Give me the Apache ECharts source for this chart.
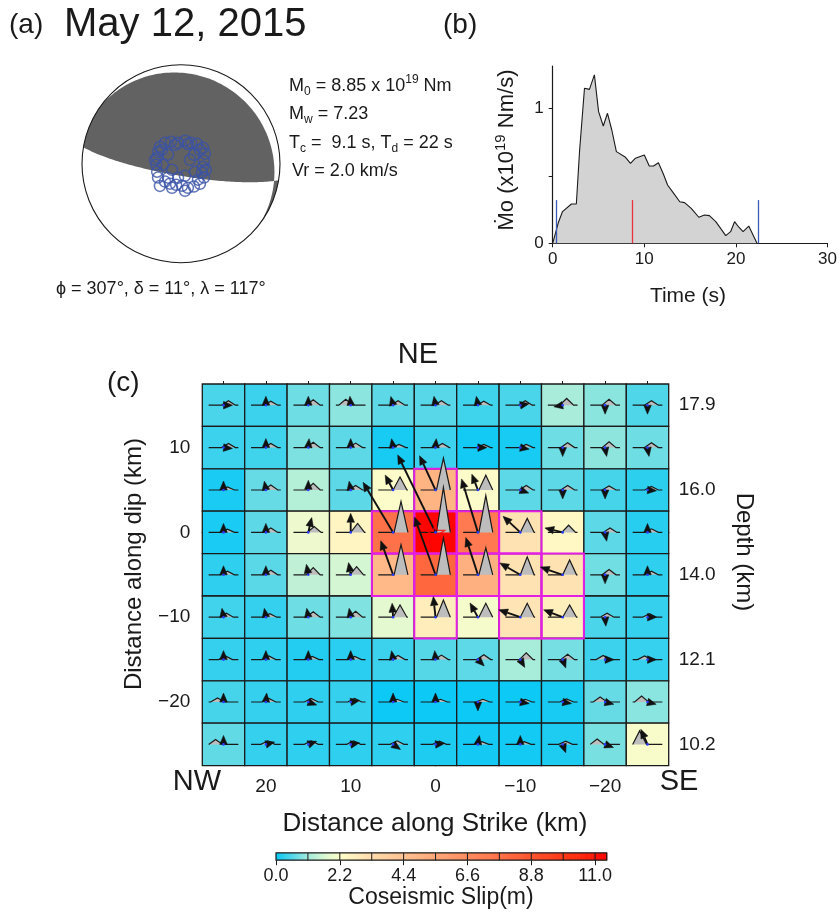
<!DOCTYPE html>
<html>
<head>
<meta charset="utf-8">
<script src="https://cdn.jsdelivr.net/npm/echarts@6.0.0/dist/echarts.min.js"></script>
<style>
html,body{margin:0;padding:0;background:#ffffff;}
#chart{width:840px;height:918px;}
</style>
</head>
<body>
<div id="chart"></div>
<script>
// ================= DATA =================
// (a) focal mechanism and station take-off points
const eventDate = 'May 12, 2015';
const strike1 = 307, dip1 = 11, rake1 = 117;
const stationAz = [309,323,336,352,10,25.5,38.7,54,67,82.6,97.8,113,121,136.5,150.5,164,177,193,209,222,239,251.6,268,284,297.5,305,236,66,120,162,267,306,342.5,19,53.6,103.5,133,171.6,200.6,223.7,278.7,55,192,223];
const stationTakeoff = [22.3,21.8,19.9,17.4,19.2,19.2,21.1,22.4,21.4,19.0,18.2,18.7,22.1,22.7,21.5,20.6,18.1,17.7,18.7,19.7,22.1,20.7,20.4,20.2,21.2,13.0,8.9,8.1,13.2,10.4,14.8,19.4,16.3,17.2,19.4,21.0,19.1,22.5,21.1,25.2,21.6,12.9,11.7,15.6];

// (b) moment rate function (x10^19 Nm/s)
const mrfTime = [0,0.15,0.6,1.07,2.04,2.58,2.94,3.47,4.01,4.55,5.01,5.52,5.98,6.45,6.95,7.95,8.49,9.03,10.0,10.54,11.0,11.54,12.08,12.54,13.15,13.87,14.4,15.12,15.95,16.56,17.1,17.8,18.89,19.42,19.85,20.32,20.78,21.4,22.3];
const mrfRate = [0,0.0,0.15,0.235,0.291,0.291,0.691,1.148,1.14,1.247,0.975,0.869,0.963,0.839,0.679,0.637,0.592,0.63,0.654,0.573,0.573,0.597,0.513,0.432,0.375,0.308,0.301,0.259,0.193,0.21,0.205,0.16,0.057,0.086,0.16,0.119,0.086,0.128,0];
const startEndTimes = [0.35, 22.4];
const centroidTime = 8.7;
const markerHeight = 0.32;
const timeTicks = [0,10,20,30];
const rateTicks = [0,0.5,1];
const rateLabels = [0,1];

// (c) finite fault
const strikeCenters = [25,20,15,10,5,0,-5,-10,-15,-20,-25];
const dipCenters = [15,10,5,0,-5,-10,-15,-20,-25];
const slip = [
  [0.49,0.38,0.74,0.95,0.61,0.58,0.41,0.48,1.15,0.94,0.52],
  [0.38,0.41,0.85,0.61,0.11,0.38,0.07,0.12,0.74,0.96,0.74],
  [0.13,0.68,1.27,0.61,2.22,4.95,2.22,0.61,0.61,0.45,0.27],
  [0.13,0.61,2.00,2.50,7.65,11.3,7.33,3.10,2.40,0.61,0.23],
  [0.28,0.60,1.40,1.62,4.75,8.06,5.13,3.10,3.10,0.76,0.28],
  [0.42,0.32,0.74,0.86,1.84,2.74,2.13,2.99,2.68,0.49,0.32],
  [0.32,0.28,0.20,0.24,0.38,0.57,0.62,1.14,0.79,0.38,0.33],
  [0.45,0.32,0.28,0.32,0.04,0.04,0.04,0.04,0.12,0.68,0.93],
  [0.65,0.32,0.28,0.28,0.28,0.16,0.09,0.07,0.16,0.81,2.17]
];
// slip direction in the fault-plane frame (0 = +strike, 90 = up-dip)
const slipRake = [
  [180,90,90,85,75,80,80,170,350,270,270],
  [185,90,95,90,80,95,180,190,270,260,260],
  [90,80,90,80,62,65,69,200,270,270,185],
  [90,90,103,90,59,64,73,43,14,260,90],
  [90,90,80,80,70,70,72,30,19,270,90],
  [80,80,80,80,86,84,61,19,21,265,180],
  [90,90,90,90,80,85,225,240,250,180,180],
  [90,95,200,170,90,90,270,190,190,195,195],
  [90,165,160,170,215,175,100,90,250,200,66]
];
// subfault source time functions: relative peak amplitude and onset (s)
const stfAmp = [
  [0.10,0.09,0.12,0.13,0.10,0.10,0.09,0.10,0.15,0.13,0.10],
  [0.09,0.09,0.12,0.10,0.07,0.09,0.07,0.07,0.11,0.13,0.11],
  [0.07,0.11,0.15,0.10,0.29,0.71,0.33,0.10,0.10,0.09,0.08],
  [0.07,0.10,0.13,0.20,0.69,1.00,0.82,0.31,0.16,0.10,0.08],
  [0.08,0.10,0.16,0.18,0.67,0.82,0.60,0.40,0.33,0.12,0.08],
  [0.09,0.08,0.12,0.13,0.27,0.38,0.31,0.31,0.27,0.09,0.08],
  [0.08,0.08,0.07,0.07,0.09,0.10,0.11,0.15,0.12,0.09,0.08],
  [0.09,0.08,0.08,0.08,0.06,0.06,0.06,0.06,0.07,0.11,0.13],
  [0.11,0.08,0.08,0.08,0.08,0.07,0.06,0.06,0.07,0.12,0.30]
];
const stfOnset = [
  [13,13,13,3,13,14,14,13,12,12,12],
  [13,13,13,13,14,15,14,14,13,12,12],
  [12,13,13,13,15,16,16,14,13,12,12],
  [12,13,14,15,16,16,16,15,14,13,12],
  [12,13,13,14,16,16,16,15,15,12,12],
  [11,12,13,13,15,16,16,15,15,10,10],
  [10,11,12,12,13,14,14,14,13,6,5],
  [2,11,11,12,12,13,13,13,12,3,2],
  [0,10,11,11,12,12,12,12,11,0,0]
];
const hypocenter = [0, 0];
const strikeLabels = [20,10,0,-10,-20];
const dipLabels = [10,0,-10,-20];
const depthTickDips = [15,5,-5,-15,-25];
const depthLabels = ['17.9','16.0','14.0','12.1','10.2'];
const slipTicks = [0,2.2,4.4,6.6,8.8,11.0];
const slipMax = 11.4;
const slipColors = ['#08c8f6','#56d7e8','#a8ecda','#dcf8d2','#fffcc8','#ffe9b9','#ffdaaa','#ffcc9c','#ffbe8e','#ffb080','#ffa274','#ff9467','#ff865a','#ff784e','#ff6a41','#ff5c34','#ff4c28','#ff3e1c','#ff3012','#ff1e08','#ff0000'];
const highlightSlip = 2.6;

// ================= HELPERS =================
const D2R = Math.PI / 180;
const FONT = '"Liberation Sans", Arial, Helvetica, sans-serif';
const INK = '#1a1a1a';
const cellKm = Math.abs(strikeCenters[0] - strikeCenters[1]);
const xExt = [Math.min(...strikeCenters) - cellKm / 2, Math.max(...strikeCenters) + cellKm / 2];
const yExt = [Math.min(...dipCenters) - cellKm / 2, Math.max(...dipCenters) + cellKm / 2];
const fmtSigned = v => (v < 0 ? '\u2212' + Math.abs(v) : String(v));

const cellData = [];
dipCenters.forEach((y, r) => strikeCenters.forEach((x, c) => {
  cellData.push([x, y, slip[r][c], slipRake[r][c], stfAmp[r][c], stfOnset[r][c]]);
}));
const hiData = cellData.filter(d => d[2] >= highlightSlip);

// STF drawing scale
const stfWindow = 30, stfRise = 7, stfHalfKm = 1.75, stfKmPerS = 3.5 / 30, stfAmpKm = 5.3;
const arrowKmPerM = 0.9, headLen = 9, headHalf = 3.8;

function cellRect(api, x, y) {
  const a = api.coord([x + cellKm / 2, y + cellKm / 2]);
  const b = api.coord([x - cellKm / 2, y - cellKm / 2]);
  return { x: Math.min(a[0], b[0]), y: Math.min(a[1], b[1]), width: Math.abs(b[0] - a[0]), height: Math.abs(b[1] - a[1]) };
}

// focal mechanism geometry (equal-area lower hemisphere)
function planeCurve(str, dp, a0, a1, n) {
  const pts = [];
  for (let k = 0; k <= n; k++) {
    const a = a0 + (a1 - a0) * k / n;
    const pl = Math.asin(Math.sin(dp * D2R) * Math.sin(a));
    const tr = str * D2R + Math.atan2(Math.cos(dp * D2R) * Math.sin(a), Math.cos(a));
    const r = Math.SQRT2 * Math.sin((Math.PI / 2 - pl) / 2);
    pts.push([r * Math.sin(tr), r * Math.cos(tr)]);
  }
  return pts;
}
function edgeArc(az0, az1, n) {
  let d = az1 - az0;
  while (d > 180) d -= 360;
  while (d <= -180) d += 360;
  const pts = [];
  for (let k = 0; k <= n; k++) {
    const az = (az0 + d * k / n) * D2R;
    pts.push([Math.sin(az), Math.cos(az)]);
  }
  return pts;
}
function mechanism(s, d, r) {
  const sr = s * D2R, dr = d * D2R, rr = r * D2R;
  const n1 = [-Math.sin(dr) * Math.sin(sr), Math.sin(dr) * Math.cos(sr), -Math.cos(dr)];
  const sv = [Math.cos(rr) * Math.cos(sr) + Math.sin(rr) * Math.cos(dr) * Math.sin(sr),
              Math.cos(rr) * Math.sin(sr) - Math.sin(rr) * Math.cos(dr) * Math.cos(sr),
              -Math.sin(rr) * Math.sin(dr)];
  const n2 = sv[2] > 0 ? sv.map(v => -v) : sv.slice();
  const dip2 = Math.acos(-n2[2]) / D2R;
  const strike2 = ((Math.atan2(n2[1], n2[0]) / D2R - 90) % 360 + 360) % 360;
  let B = [n1[1] * sv[2] - n1[2] * sv[1], n1[2] * sv[0] - n1[0] * sv[2], n1[0] * sv[1] - n1[1] * sv[0]];
  const bl = Math.hypot(B[0], B[1], B[2]);
  B = B.map(v => v / bl);
  if (B[2] < 0) B = B.map(v => -v);
  const alphaOn = (str, dp) => {
    const st = str * D2R, dd = dp * D2R;
    const sH = [Math.cos(st), Math.sin(st), 0];
    const dH = [Math.cos(dd) * Math.cos(st + Math.PI / 2), Math.cos(dd) * Math.sin(st + Math.PI / 2), Math.sin(dd)];
    return Math.atan2(B[0] * dH[0] + B[1] * dH[1] + B[2] * dH[2], B[0] * sH[0] + B[1] * sH[1]);
  };
  const a1X = alphaOn(s, d), a2X = alphaOn(strike2, dip2);
  const main = [].concat(
    planeCurve(strike2, dip2, a2X, Math.PI, 90),
    edgeArc(strike2 + 180, s, 20),
    planeCurve(s, d, 0, a1X, 90));
  const sliver = [].concat(
    planeCurve(strike2, dip2, a2X, 0, 10),
    edgeArc(strike2, s + 180, 20),
    planeCurve(s, d, Math.PI, a1X, 20));
  return { main, sliver };
}
const mech = mechanism(strike1, dip1, rake1);
const stationXY = stationAz.map((az, i) => {
  const r = Math.SQRT2 * Math.sin(stationTakeoff[i] * D2R / 2);
  return [r * Math.sin(az * D2R), r * Math.cos(az * D2R)];
});

// colour bar strip
const cbSteps = 228;
const cbData = [];
for (let i = 0; i < cbSteps; i++) {
  const v0 = i * slipMax / cbSteps;
  cbData.push([v0, 0, v0 + slipMax / cbSteps / 2]);
}
const dividerStep = slipTicks[1] / 2;
const dividers = [];
for (let v = dividerStep; v < slipMax - 1e-6; v += dividerStep) dividers.push([v, 0]);

// ================= TEXT =================
function txt(x, y, text, size, o) {
  o = o || {};
  const align = o.align || 'left';
  const st = { text: text, fontSize: size, fontFamily: FONT, fill: INK,
    align: align, verticalAlign: 'middle', textAlign: align, textVerticalAlign: 'middle' };
  if (o.rich) st.rich = o.rich;
  return { type: 'text', x: x, y: y, rotation: o.rot || 0, z: 100, silent: true, style: st };
}
function richSet(size) {
  const sm = Math.round(size * 0.66);
  return {
    n: { fontSize: size, fontFamily: FONT, fill: INK, lineHeight: size + 6 },
    sub: { fontSize: sm, fontFamily: FONT, fill: INK, lineHeight: sm, verticalAlign: 'bottom' },
    sup: { fontSize: sm, fontFamily: FONT, fill: INK, lineHeight: sm, verticalAlign: 'top' }
  };
}
const R18 = richSet(18), R22 = richSet(22);

// ================= CHART =================
const chart = echarts.init(document.getElementById('chart'), null, { renderer: 'canvas', width: 840, height: 918 });

function xAx(pos, ticks, len, labels, line) {
  return {
    gridIndex: 0, type: 'value', position: pos, min: xExt[0], max: xExt[1], inverse: true,
    axisLine: { show: line, lineStyle: { color: INK, width: 1.2 } },
    axisTick: { show: true, customValues: ticks, length: len, lineStyle: { color: INK, width: 1 } },
    axisLabel: { show: !!labels, customValues: labels || [], formatter: fmtSigned, margin: 12, fontSize: 19, color: INK, fontFamily: FONT },
    splitLine: { show: false }
  };
}
function yAx(pos, ticks, len, labels, line, fmt, margin) {
  return {
    gridIndex: 0, type: 'value', position: pos, min: yExt[0], max: yExt[1],
    axisLine: { show: line, lineStyle: { color: INK, width: 1.2 } },
    axisTick: { show: true, customValues: ticks, length: len, lineStyle: { color: INK, width: 1 } },
    axisLabel: { show: !!labels, customValues: labels || [], formatter: fmt || fmtSigned, margin: margin || 10, fontSize: 19, color: INK, fontFamily: FONT },
    splitLine: { show: false }
  };
}

const option = {
  animation: false,
  backgroundColor: '#ffffff',
  grid: [
    { left: 202.3, top: 384, width: 466.4, height: 381.6, containLabel: false },
    { left: 552.7, top: 66, right: 10, bottom: 674.7, containLabel: false },
    { left: 82, top: 64.8, width: 198, height: 198, containLabel: false },
    { left: 276, top: 852.8, width: 330.7, height: 7.4, containLabel: false }
  ],
  xAxis: [
    xAx('bottom', strikeLabels, 6, strikeLabels, true),
    xAx('bottom', strikeCenters, 3, null, false),
    xAx('top', strikeLabels, 6, null, true),
    xAx('top', strikeCenters, 3, null, false),
    { gridIndex: 1, type: 'value', min: 0, max: 30, interval: 10,
      axisLine: { show: true, lineStyle: { color: INK, width: 1.2 } },
      axisTick: { show: true, customValues: timeTicks, length: 4, lineStyle: { color: INK } },
      axisLabel: { customValues: timeTicks, fontSize: 17, color: INK, fontFamily: FONT, margin: 8 },
      splitLine: { show: false } },
    { gridIndex: 2, type: 'value', min: -1, max: 1, show: false },
    { gridIndex: 3, type: 'value', min: 0, max: slipMax,
      axisLine: { show: false },
      axisTick: { show: true, customValues: slipTicks, length: 5, lineStyle: { color: INK } },
      axisLabel: { customValues: slipTicks, formatter: v => v.toFixed(1), fontSize: 18, color: INK, fontFamily: FONT, margin: 7 },
      splitLine: { show: false } }
  ],
  yAxis: [
    yAx('left', dipLabels, 6, dipLabels, true, fmtSigned, 12),
    yAx('left', dipCenters, 3, null, false),
    yAx('right', dipCenters, 4, depthTickDips, true, v => depthLabels[depthTickDips.indexOf(v)], 10),
    { gridIndex: 1, type: 'value', min: 0, max: 1.313,
      axisLine: { show: true, lineStyle: { color: INK, width: 1.2 } },
      axisTick: { show: true, customValues: rateTicks, length: 4, lineStyle: { color: INK } },
      axisLabel: { customValues: rateLabels, fontSize: 17, color: INK, fontFamily: FONT, margin: 9 },
      splitLine: { show: false } },
    { gridIndex: 2, type: 'value', min: -1, max: 1, show: false },
    { gridIndex: 3, type: 'value', min: 0, max: 1, show: false }
  ],
  visualMap: {
    type: 'continuous', show: false, min: 0, max: slipMax, dimension: 2,
    seriesIndex: [0, 8], inRange: { color: slipColors }
  },
  series: [
    // 0: slip cells
    { type: 'custom', xAxisIndex: 0, yAxisIndex: 0, data: cellData, silent: true,
      renderItem: (p, api) => ({ type: 'rect', shape: cellRect(api, api.value(0), api.value(1)),
        style: { fill: api.visual('color'), stroke: INK, lineWidth: 1.3 } }) },
    // 1: highlighted large-slip cells
    { type: 'custom', xAxisIndex: 0, yAxisIndex: 0, data: hiData, silent: true,
      renderItem: (p, api) => ({ type: 'rect', shape: cellRect(api, api.value(0), api.value(1)),
        style: { fill: 'none', stroke: '#e41ee4', lineWidth: 2 } }) },
    // 2: source time functions
    { type: 'custom', xAxisIndex: 0, yAxisIndex: 0, data: cellData, silent: true,
      renderItem: (p, api) => {
        const x = api.value(0), y = api.value(1), amp = api.value(4), on = api.value(5);
        const pts = [[0, 0], [on, 0], [on + stfRise, amp], [on + 2 * stfRise, 0], [stfWindow, 0]]
          .map(q => api.coord([x + stfHalfKm - q[0] * stfKmPerS, y + q[1] * stfAmpKm]));
        return { type: 'group', children: [
          { type: 'polygon', shape: { points: pts }, style: { fill: '#bdbdbd', stroke: null } },
          { type: 'polyline', shape: { points: pts }, style: { fill: 'none', stroke: INK, lineWidth: 1.2 } }
        ] };
      } },
    // 3: slip vectors
    { type: 'custom', xAxisIndex: 0, yAxisIndex: 0, data: cellData, silent: true,
      renderItem: (p, api) => {
        const x = api.value(0), y = api.value(1), s = api.value(2), r = api.value(3) * D2R;
        const c = api.coord([x, y]);
        const u = api.coord([x + Math.cos(r), y + Math.sin(r)]);
        let ux = u[0] - c[0], uy = u[1] - c[1];
        const pxPerKm = Math.hypot(ux, uy);
        ux /= pxPerKm; uy /= pxPerKm;
        const len = Math.max(s * arrowKmPerM * pxPerKm, headLen);
        const tip = [c[0] + ux * len, c[1] + uy * len];
        const base = [tip[0] - ux * headLen, tip[1] - uy * headLen];
        const px = -uy, py = ux;
        const ch = [];
        if (len > headLen + 0.5) ch.push({ type: 'line', shape: { x1: c[0], y1: c[1], x2: base[0], y2: base[1] }, style: { stroke: '#111', lineWidth: 1.9 } });
        ch.push({ type: 'polygon', shape: { points: [tip, [base[0] + px * headHalf, base[1] + py * headHalf], [base[0] - px * headHalf, base[1] - py * headHalf]] }, style: { fill: '#111', stroke: '#111', lineWidth: 0.5 } });
        ch.push({ type: 'circle', shape: { cx: c[0], cy: c[1], r: 1.3 }, style: { fill: '#2a3cff' } });
        return { type: 'group', children: ch };
      } },
    // 4: hypocentre
    { type: 'scatter', xAxisIndex: 0, yAxisIndex: 0, data: [hypocenter], silent: true, z: 10,
      symbol: 'path://M50 0L61.2 34.5L97.6 34.5L68.2 55.9L79.4 90.5L50 69.1L20.6 90.5L31.8 55.9L2.4 34.5L38.8 34.5Z',
      symbolSize: [18, 17], itemStyle: { color: 'rgba(0,0,0,0)', borderColor: '#ff0000', borderWidth: 1.4 } },
    // 5: moment rate function
    { type: 'line', xAxisIndex: 4, yAxisIndex: 3, silent: true, symbol: 'none',
      data: mrfTime.map((t, i) => [t, mrfRate[i]]),
      lineStyle: { color: INK, width: 1.1 }, areaStyle: { color: '#d3d3d3', opacity: 1 },
      markLine: { silent: true, symbol: ['none', 'none'], label: { show: false },
        data: [
          [{ coord: [startEndTimes[0], 0], lineStyle: { color: '#3b5bb5', width: 1.3, type: 'solid' } }, { coord: [startEndTimes[0], markerHeight] }],
          [{ coord: [startEndTimes[1], 0], lineStyle: { color: '#3b5bb5', width: 1.3, type: 'solid' } }, { coord: [startEndTimes[1], markerHeight] }],
          [{ coord: [centroidTime, 0], lineStyle: { color: '#e8323c', width: 1.3, type: 'solid' } }, { coord: [centroidTime, markerHeight] }]
        ] } },
    // 6: beach ball
    { type: 'custom', xAxisIndex: 5, yAxisIndex: 4, data: [[0, 0]], silent: true,
      renderItem: (p, api) => {
        const c = api.coord([0, 0]);
        const R = api.size([1, 1])[0];
        const toPx = q => api.coord(q);
        return { type: 'group', children: [
          { type: 'circle', shape: { cx: c[0], cy: c[1], r: R }, style: { fill: '#ffffff' } },
          { type: 'polygon', shape: { points: mech.main.map(toPx) }, style: { fill: '#626262' } },
          { type: 'polygon', shape: { points: mech.sliver.map(toPx) }, style: { fill: '#626262' } },
          { type: 'circle', shape: { cx: c[0], cy: c[1], r: R }, style: { fill: 'none', stroke: INK, lineWidth: 1.1 } }
        ] };
      } },
    // 7: stations
    { type: 'scatter', xAxisIndex: 5, yAxisIndex: 4, data: stationXY, silent: true, z: 5,
      symbol: 'circle', symbolSize: 11,
      itemStyle: { color: 'rgba(0,0,0,0)', borderColor: '#3a52a6', borderWidth: 1.5 } },
    // 8: colour bar
    { type: 'custom', xAxisIndex: 6, yAxisIndex: 5, data: cbData, silent: true,
      renderItem: (p, api) => {
        const a = api.coord([api.value(0), 0]);
        const b = api.coord([api.value(0) + slipMax / cbSteps, 1]);
        return { type: 'rect', shape: { x: a[0], y: b[1], width: b[0] - a[0] + 0.6, height: a[1] - b[1] },
          style: { fill: api.visual('color') } };
      } },
    // 9: colour bar dividers + frame
    { type: 'custom', xAxisIndex: 6, yAxisIndex: 5, data: dividers, silent: true, z: 5,
      renderItem: (p, api) => {
        const a = api.coord([api.value(0), 0]);
        const b = api.coord([api.value(0), 1]);
        const ch = [{ type: 'line', shape: { x1: a[0], y1: a[1], x2: b[0], y2: b[1] }, style: { stroke: INK, lineWidth: 1 } }];
        if (p.dataIndex === 0) {
          const o = api.coord([0, 0]), e = api.coord([slipMax, 1]);
          ch.push({ type: 'rect', shape: { x: o[0], y: e[1], width: e[0] - o[0], height: o[1] - e[1] }, style: { fill: 'none', stroke: INK, lineWidth: 1.2 } });
        }
        return { type: 'group', children: ch };
      } }
  ],
  graphic: [
    txt(9, 25, '(a)', 28),
    txt(64, 25, eventDate, 40),
    txt(443, 25, '(b)', 28),
    txt(289, 86, '{n|M}{sub|0}{n| = 8.85 x 10}{sup|19}{n| Nm}', 18, { rich: R18 }),
    txt(289, 114, '{n|M}{sub|w}{n| = 7.23}', 18, { rich: R18 }),
    txt(289, 143, '{n|T}{sub|c}{n| =  9.1 s, T}{sub|d}{n| = 22 s}', 18, { rich: R18 }),
    txt(292, 171, 'Vr = 2.0 km/s', 18),
    txt(56, 289, '\u03d5 = ' + strike1 + '\u00b0, \u03b4 = ' + dip1 + '\u00b0, \u03bb = ' + rake1 + '\u00b0', 18),
    txt(507, 150, '{n|\u1e40o (x10}{sup|19}{n| Nm/s)}', 22, { rich: R22, align: 'center', rot: Math.PI / 2 }),
    txt(688, 296, 'Time (s)', 21, { align: 'center' }),
    txt(107, 383, '(c)', 28),
    txt(418, 355, 'NE', 29, { align: 'center' }),
    txt(197, 782, 'NW', 29, { align: 'center' }),
    txt(679, 782, 'SE', 29, { align: 'center' }),
    txt(435, 824, 'Distance along Strike (km)', 26, { align: 'center' }),
    txt(134, 564, 'Distance along dip (km)', 24, { align: 'center', rot: Math.PI / 2 }),
    txt(744, 552, 'Depth (km)', 24, { align: 'center', rot: -Math.PI / 2 }),
    txt(441, 898, 'Coseismic Slip(m)', 23, { align: 'center' })
  ]
};
chart.setOption(option);
</script>
</body>
</html>
